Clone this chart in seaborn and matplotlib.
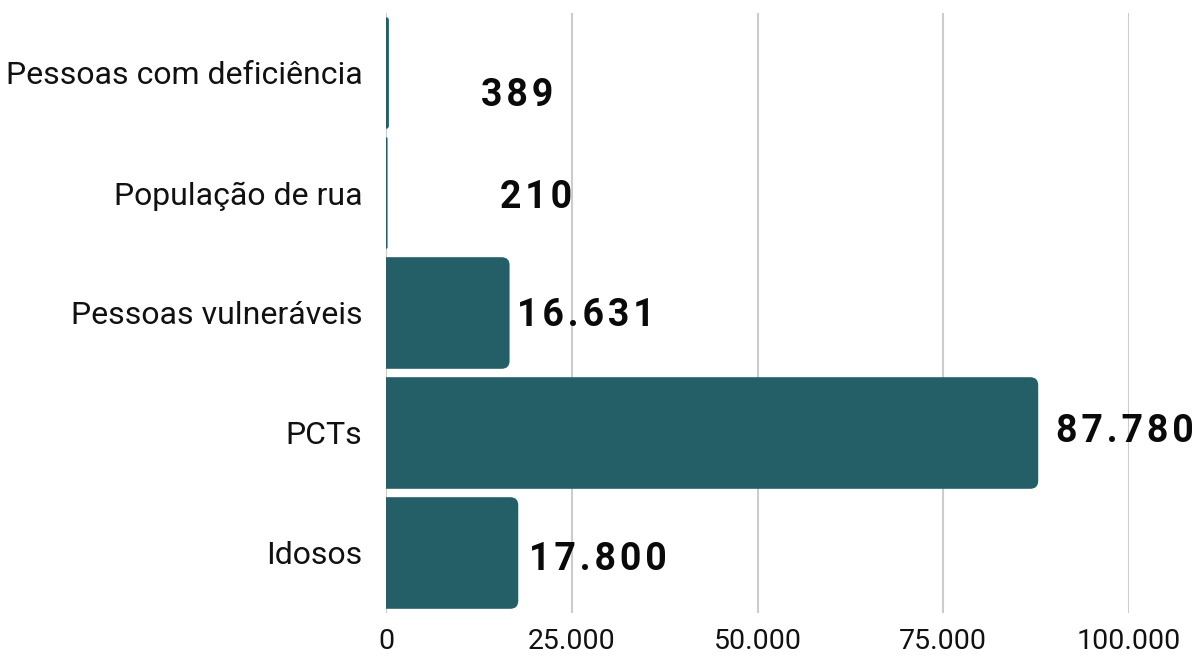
import matplotlib
matplotlib.use("Agg")
import matplotlib.pyplot as plt
from matplotlib.patches import FancyBboxPatch
import seaborn as sns
import pandas as pd

categorias = ['Pessoas com deficiência', 'População de rua', 'Pessoas vulneráveis', 'PCTs', 'Idosos']
valores = [389, 210, 16631, 87780, 17800]
rotulos = ['389', '210', '16.631', '87.780', '17.800']
ticks_x = [0, 25000, 50000, 75000, 100000]
ticks_txt = ['0', '25.000', '50.000', '75.000', '100.000']

# label nudges in pixels (dx from bar end, dy from band centre)
nudges = [(92, 22), (112, 4), (7, 3), (18, -2), (11, 6)]

cor = '#245e66'

sns.set_style('white')
plt.rcParams['font.family'] = ['Roboto', 'DejaVu Sans']

df = pd.DataFrame({'cat': categorias, 'val': valores})

fig = plt.figure(figsize=(11.96, 6.57), dpi=100)
ax = fig.add_axes([386 / 1196, 1 - 613 / 657, (1129 - 386) / 1196, 600 / 657])

sns.barplot(data=df, x='val', y='cat', color=cor, width=0.93, saturation=1, ax=ax, zorder=3)

ax.set_xlim(0, 100000)
ax.set_ylim(4.5, -0.5)

# rounded right corners
px_x = 100000 / (1129 - 386)
px_y = 1 / 120
for p in list(ax.patches):
    x, y, w, h = p.get_x(), p.get_y(), p.get_width(), p.get_height()
    r = min(8 * px_x, w)
    p.set_visible(False)
    fb = FancyBboxPatch((x - r, y), w + r, h,
                        boxstyle=f'round,pad=0,rounding_size={r}',
                        mutation_aspect=(8 * px_y) / (8 * px_x),
                        facecolor=cor, edgecolor='none', zorder=3)
    ax.add_patch(fb)

ax.set_xticks(ticks_x)
ax.set_xticklabels(ticks_txt, fontsize=20.5, color='#111111')
ax.tick_params(axis='y', labelsize=23, labelcolor='#111111', length=0, pad=17)
ax.tick_params(axis='x', length=0, pad=11)
ax.set_xlabel('')
ax.set_ylabel('')

ax.grid(axis='x', color='#cccccc', linewidth=1.5, zorder=0)
ax.grid(axis='y', visible=False)
for s in ax.spines.values():
    s.set_visible(False)

hair = '\u200a'
for i, (v, lab) in enumerate(zip(valores, rotulos)):
    dx, dy = nudges[i]
    ax.annotate(hair.join(lab), xy=(v, i), xytext=(dx * 0.72, -dy * 0.72),
                textcoords='offset points', ha='left', va='center',
                fontsize=27, fontweight='bold', color='#0a0a0a', clip_on=False)

fig.savefig('out.png', dpi=100)
